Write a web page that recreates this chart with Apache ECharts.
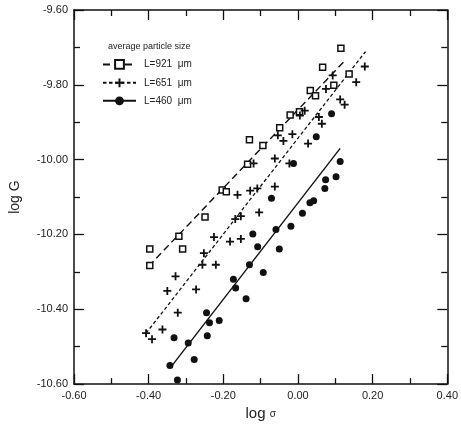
<!DOCTYPE html>
<html>
<head>
<meta charset="utf-8">
<script src="https://cdn.jsdelivr.net/npm/echarts@6/dist/echarts.min.js"></script>
<style>
  html, body { margin: 0; padding: 0; background: #fff; }
  #chart { width: 461px; height: 426px; }
</style>
</head>
<body>
<div id="chart"></div>
<script>
// 数据: [log sigma, log G]
var sq921 = [
  [0.115, -9.702], [0.066, -9.753], [0.137, -9.771], [0.096, -9.801], [0.033, -9.815],
  [0.047, -9.829], [0.004, -9.872], [-0.021, -9.881], [-0.049, -9.915], [-0.130, -9.947],
  [-0.094, -9.962], [-0.135, -10.012], [-0.203, -10.081], [-0.192, -10.086], [-0.249, -10.153],
  [-0.319, -10.205], [-0.397, -10.239], [-0.309, -10.239], [-0.397, -10.283]
];
var cross651 = [
  [0.179, -9.751], [0.156, -9.793], [0.093, -9.775], [0.075, -9.811], [0.113, -9.839],
  [0.125, -9.853], [0.018, -9.869], [0.005, -9.882], [0.056, -9.886], [0.064, -9.904],
  [-0.054, -9.935], [-0.015, -9.932], [-0.039, -9.950], [0.027, -9.957], [-0.119, -10.010],
  [-0.062, -9.997], [-0.023, -10.010], [-0.162, -10.094], [-0.128, -10.083], [-0.109, -10.077],
  [-0.062, -10.072], [-0.104, -10.141], [-0.153, -10.151], [-0.168, -10.159], [-0.225, -10.207],
  [-0.182, -10.219], [-0.153, -10.212], [-0.252, -10.250], [-0.256, -10.281], [-0.220, -10.281],
  [-0.328, -10.312], [-0.350, -10.351], [-0.273, -10.347], [-0.322, -10.409], [-0.363, -10.454],
  [-0.407, -10.464], [-0.391, -10.480]
];
var dot460 = [
  [0.090, -9.877], [0.049, -9.939], [-0.012, -10.010], [0.113, -10.005], [0.074, -10.054],
  [0.102, -10.046], [0.072, -10.077], [-0.071, -10.103], [0.042, -10.110], [0.032, -10.115],
  [0.012, -10.143], [-0.019, -10.178], [-0.059, -10.187], [-0.121, -10.199], [-0.108, -10.233],
  [-0.050, -10.239], [-0.130, -10.281], [-0.093, -10.302], [-0.173, -10.320], [-0.167, -10.343],
  [-0.139, -10.372], [-0.245, -10.409], [-0.237, -10.436], [-0.211, -10.430], [-0.243, -10.471],
  [-0.332, -10.476], [-0.294, -10.490], [-0.343, -10.550], [-0.278, -10.534], [-0.323, -10.589]
];
// 拟合直线端点
var fit921 = [[-0.400, -10.285], [0.128, -9.733]];
var fit651 = [[-0.407, -10.464], [0.181, -9.711]];
var fit460 = [[-0.337, -10.550], [0.113, -9.970]];
var names = ['L=921  \u03bcm', 'L=651  \u03bcm', 'L=460  \u03bcm'];

var ink = '#111';
var plusPath = 'path://M0,3.1H3.1V0H4.9V3.1H8V4.9H4.9V8H3.1V4.9H0Z';

function axisCommon(showLabel) {
  return {
    type: 'value',
    axisLine: { show: true, onZero: false, lineStyle: { color: ink, width: 1.5 } },
    axisTick: { show: true, inside: true, length: 10, lineStyle: { color: ink, width: 1.3 } },
    minorTick: { show: true, splitNumber: 2, length: 6, lineStyle: { color: ink, width: 1.3 } },
    splitLine: { show: false },
    axisLabel: {
      show: showLabel, color: '#222', fontSize: 11, fontFamily: 'Liberation Sans',
      formatter: function (v) { return v.toFixed(2); }
    }
  };
}

var xBottom = Object.assign(axisCommon(true), {
  min: -0.6, max: 0.4, interval: 0.2, position: 'bottom',
  name: 'log {s|\u03c3}', nameLocation: 'middle', nameGap: 16,
  nameTextStyle: { fontSize: 15, color: '#222', fontFamily: 'Liberation Sans',
    rich: { s: { fontSize: 10, color: '#222', padding: [2, 0, 0, 0] } } }
});
xBottom.axisLabel.margin = 6;
var xTop = Object.assign(axisCommon(false), { min: -0.6, max: 0.4, interval: 0.2, position: 'top' });
var yLeft = Object.assign(axisCommon(true), {
  min: -10.6, max: -9.6, interval: 0.2, position: 'left',
  name: 'log G', nameLocation: 'middle', nameGap: 52, nameRotate: 90,
  nameTextStyle: { fontSize: 14, color: '#222', fontFamily: 'Liberation Sans' }
});
yLeft.axisLabel.margin = 6;
var yRight = Object.assign(axisCommon(false), { min: -10.6, max: -9.6, interval: 0.2, position: 'right' });

var chart = echarts.init(document.getElementById('chart'));
chart.setOption({
  animation: false,
  backgroundColor: '#fff',
  title: {
    text: 'average particle size', left: 103, top: 37,
    textStyle: { fontSize: 9, fontWeight: 'normal', color: '#222', fontFamily: 'Liberation Sans' }
  },
  legend: {
    orient: 'vertical', left: 102, top: 59, padding: 0,
    itemWidth: 33, itemHeight: 11, itemGap: 8,
    textStyle: { fontSize: 10, color: '#222', fontFamily: 'Liberation Sans', padding: [0, 0, 0, 3] },
    data: [
      { name: names[0], itemStyle: { color: '#fff', borderColor: ink, borderWidth: 2 } },
      { name: names[1] },
      { name: names[2] }
    ]
  },
  grid: { left: 70, right: 11, top: 10, bottom: 40 },
  xAxis: [xBottom, xTop],
  yAxis: [yLeft, yRight],
  series: [
    {
      name: names[0], type: 'line', data: fit921, showSymbol: false,
      symbol: 'rect', color: ink,
      lineStyle: { color: ink, width: 1.4, type: [7, 4] }, z: 2
    },
    {
      name: names[1], type: 'line', data: fit651, showSymbol: false,
      symbol: plusPath, color: ink,
      lineStyle: { color: ink, width: 1.3, type: [3.5, 2.5] }, z: 2
    },
    {
      name: names[2], type: 'line', data: fit460, showSymbol: false,
      symbol: 'circle', color: ink,
      lineStyle: { color: ink, width: 1.4 }, z: 2
    },
    {
      name: 's921', type: 'scatter', data: sq921, symbol: 'rect', symbolSize: 6,
      itemStyle: { color: '#fff', borderColor: ink, borderWidth: 1.5, opacity: 1 }, z: 3
    },
    {
      name: 'c651', type: 'scatter', data: cross651, symbol: plusPath, symbolSize: 8,
      itemStyle: { color: ink, opacity: 1 }, z: 3
    },
    {
      name: 'd460', type: 'scatter', data: dot460, symbol: 'circle', symbolSize: 7,
      itemStyle: { color: ink, opacity: 1 }, z: 3
    }
  ]
});

window.onresize = function () {
  chart.resize();
};
</script>
</body>
</html>
